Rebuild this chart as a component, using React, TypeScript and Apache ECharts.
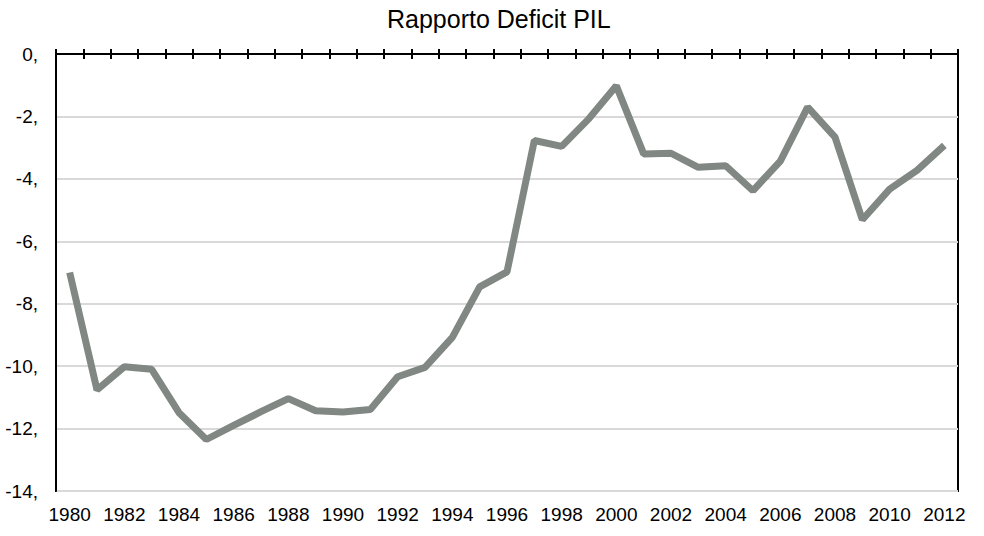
import React, { useEffect, useRef } from "react";
import * as echarts from "echarts";

const years: string[] = [
  "1980", "1981", "1982", "1983", "1984", "1985", "1986", "1987", "1988", "1989",
  "1990", "1991", "1992", "1993", "1994", "1995", "1996", "1997", "1998", "1999",
  "2000", "2001", "2002", "2003", "2004", "2005", "2006", "2007", "2008", "2009",
  "2010", "2011", "2012",
];

const deficitRatio: number[] = [
  -7.0, -10.76, -10.02, -10.1, -11.49, -12.35, -11.9, -11.46, -11.04, -11.43,
  -11.47, -11.39, -10.34, -10.04, -9.08, -7.46, -6.98, -2.77, -2.96, -2.07,
  -1.02, -3.2, -3.18, -3.63, -3.58, -4.38, -3.43, -1.7, -2.66, -5.31,
  -4.33, -3.73, -2.93,
];

const yTicks: number[] = [0, -2, -4, -6, -8, -10, -12, -14];

const FONT = "'Liberation Sans', Arial, Helvetica, sans-serif";

export default function App() {
  const ref = useRef<HTMLDivElement>(null);

  useEffect(() => {
    if (!ref.current) return;
    const chart = echarts.init(ref.current, undefined, { renderer: "svg" });
    chart.setOption({
      animation: false,
      backgroundColor: "#ffffff",
      textStyle: { fontFamily: FONT },
      title: {
        text: "Rapporto Deficit PIL",
        left: 387,
        top: 6,
        padding: 0,
        textStyle: { fontFamily: FONT, fontSize: 25, fontWeight: "normal", color: "#000" },
      },
      grid: {
        left: 56,
        right: 26,
        top: 54,
        bottom: 45,
        show: true,
        borderColor: "#000",
        borderWidth: 2,
        backgroundColor: "transparent",
      },
      xAxis: [
        {
          type: "category",
          data: years,
          position: "bottom",
          boundaryGap: true,
          axisLine: { show: true, lineStyle: { color: "#000", width: 2 } },
          axisTick: { show: false },
          axisLabel: {
            interval: 1,
            color: "#000",
            fontSize: 19,
            fontFamily: FONT,
            margin: 14,
          },
          splitLine: { show: false },
        },
        {
          type: "category",
          data: years,
          position: "top",
          boundaryGap: true,
          axisLine: { show: true, lineStyle: { color: "#000", width: 2 } },
          axisTick: { show: true, interval: 0, length: 5, lineStyle: { color: "#000", width: 2 } },
          axisLabel: { show: false },
          splitLine: { show: false },
        },
        {
          type: "category",
          data: years,
          position: "top",
          boundaryGap: true,
          axisLine: { show: false },
          axisTick: { show: true, inside: true, interval: 0, length: 5, lineStyle: { color: "#000", width: 2 } },
          axisLabel: { show: false },
          splitLine: { show: false },
        },
      ],
      yAxis: {
        type: "value",
        min: yTicks[yTicks.length - 1],
        max: yTicks[0],
        interval: 2,
        axisLine: { show: true, lineStyle: { color: "#000", width: 2 } },
        axisTick: { show: false },
        axisLabel: {
          color: "#000",
          fontSize: 19,
          fontFamily: FONT,
          margin: 18,
          padding: [7, 0, 0, 0],
          formatter: (v: number) => `${v},`,
        },
        splitLine: { show: true, lineStyle: { color: "#d9d9d9", width: 2 } },
      },
      series: [
        {
          type: "line",
          xAxisIndex: 0,
          data: deficitRatio,
          symbol: "none",
          lineStyle: { color: "#818783", width: 7, cap: "butt", join: "bevel" },
        },
      ],
    });
    return () => chart.dispose();
  }, []);

  return (
    <div
      ref={ref}
      style={{ position: "fixed", left: 0, top: 0, width: 984, height: 536 }}
    />
  );
}
